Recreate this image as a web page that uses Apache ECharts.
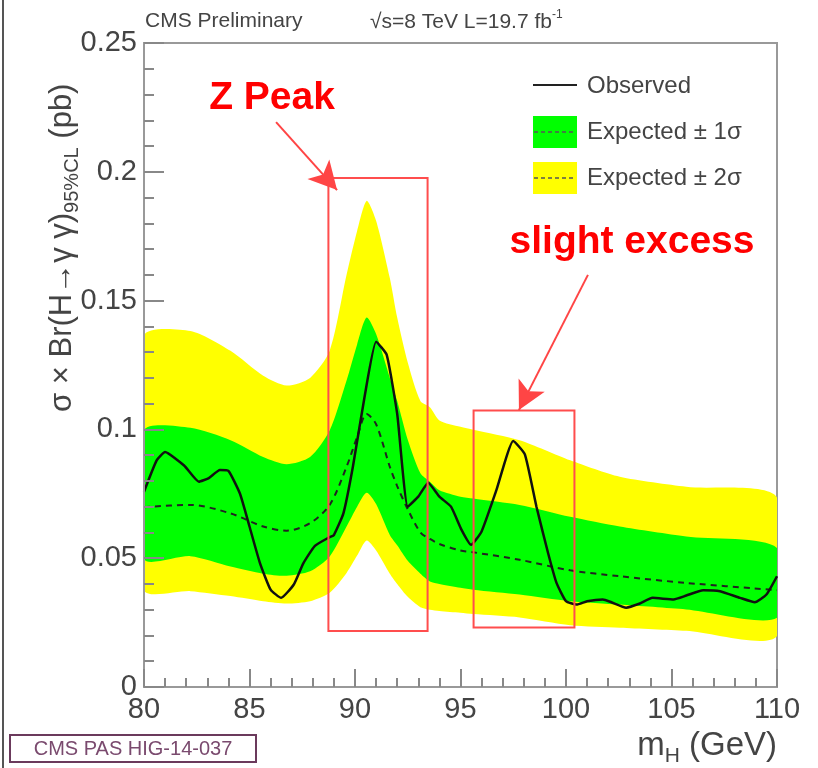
<!DOCTYPE html>
<html>
<head>
<meta charset="utf-8">
<script src="https://cdn.jsdelivr.net/npm/echarts@6/dist/echarts.min.js"></script>
<style>
html, body { margin: 0; padding: 0; background: #fff; }
#chart { width: 818px; height: 768px; }
</style>
</head>
<body>
<div id="chart"></div>
<script>
// observed limit
var massObs = [80, 80.6, 81.0, 81.9, 82.6, 83.05, 83.6, 84.0, 84.55, 85.0, 85.5, 86.0, 86.5, 87.1, 87.55, 88.1, 88.8, 89.0, 89.45, 89.9, 90.45, 91.0, 91.5, 92.0, 92.5, 93.0, 93.47, 94.0, 94.55, 95.05, 95.5, 96.0, 96.7, 97.5, 98.05, 98.6, 99.15, 99.55, 100.0, 100.5, 101.0, 101.75, 102.15, 102.85, 103.5, 104.1, 105.1, 105.7, 106.5, 107.3, 108.25, 108.95, 109.5, 110];
var observed = [0.0758, 0.088, 0.0912, 0.086, 0.0797, 0.081, 0.0842, 0.0839, 0.075, 0.0623, 0.048, 0.0378, 0.0346, 0.0398, 0.048, 0.0548, 0.0582, 0.059, 0.0674, 0.0855, 0.1125, 0.134, 0.129, 0.106, 0.070, 0.0739, 0.0793, 0.0739, 0.070, 0.061, 0.0552, 0.0604, 0.0764, 0.0955, 0.0903, 0.070, 0.052, 0.0404, 0.0333, 0.032, 0.0333, 0.034, 0.0329, 0.0308, 0.0324, 0.0346, 0.034, 0.0355, 0.0376, 0.0372, 0.0346, 0.0329, 0.0359, 0.043];

// expected limit and its bands
var massBand = [80, 82.2, 84.1, 85.65, 86.76, 87.87, 88.8, 89.6, 90.1, 90.55, 91.0, 91.65, 92.0, 92.5, 93.1, 93.55, 94.0, 95.0, 95.6, 97.8, 100.2, 102.55, 105.7, 110];
var expected = [0.0698, 0.0707, 0.0674, 0.0623, 0.0607, 0.0636, 0.0707, 0.0855, 0.097, 0.106, 0.102, 0.0855, 0.078, 0.069, 0.060, 0.0575, 0.0555, 0.053, 0.0523, 0.0494, 0.0453, 0.043, 0.0404, 0.0376];
var sigma1Hi = [0.0996, 0.1006, 0.0958, 0.0893, 0.0865, 0.0893, 0.0996, 0.119, 0.133, 0.1434, 0.137, 0.120, 0.111, 0.096, 0.083, 0.0797, 0.0764, 0.0739, 0.0732, 0.0707, 0.0661, 0.0623, 0.0584, 0.054];
var sigma1Lo = [0.0497, 0.0508, 0.0468, 0.044, 0.0432, 0.0449, 0.0507, 0.0623, 0.070, 0.0754, 0.071, 0.059, 0.055, 0.049, 0.044, 0.041, 0.040, 0.0385, 0.0378, 0.0359, 0.0333, 0.032, 0.0301, 0.0269];
var sigma2Hi = [0.1363, 0.1382, 0.1305, 0.1208, 0.117, 0.120, 0.1305, 0.160, 0.177, 0.1887, 0.181, 0.1588, 0.1434, 0.126, 0.111, 0.1086, 0.1035, 0.101, 0.0999, 0.0958, 0.088, 0.0816, 0.0777, 0.0736];
var sigma2Lo = [0.0378, 0.0372, 0.0353, 0.0333, 0.0324, 0.0333, 0.0366, 0.0443, 0.051, 0.0569, 0.053, 0.044, 0.040, 0.035, 0.031, 0.030, 0.0295, 0.0288, 0.0283, 0.027, 0.024, 0.023, 0.0218, 0.0198];

// annotation boxes [mLo, yHi, mHi, yLo] and arrows [mFrom, yFrom, mTo, yTo]
var zPeakBox = [88.74, 0.1976, 93.44, 0.0217];
var excessBox = [95.62, 0.1073, 100.40, 0.0231];
var zPeakArrow = [86.26, 0.2193, 89.15, 0.1929];
var excessArrow = [101.04, 0.160, 97.77, 0.1075];

function pairs(xs, ys) {
    return xs.map(function (x, i) { return [x, ys[i]]; });
}

// filled band between lo and hi, drawn as one polygon through the axes
function band(lo, hi, color) {
    return {
        type: 'custom', silent: true, clip: true, z: 1,
        data: [[95, 0.1]],
        renderItem: function (params, api) {
            var pts = [];
            for (var i = 0; i < massBand.length; i++) pts.push(api.coord([massBand[i], hi[i]]));
            for (var j = massBand.length - 1; j >= 0; j--) pts.push(api.coord([massBand[j], lo[j]]));
            return {
                type: 'polygon',
                shape: { points: pts, smooth: 0.25 },
                style: { fill: color }
            };
        }
    };
}

var chart = echarts.init(document.getElementById('chart'));
var font = 'Liberation Sans, Arial, sans-serif';

var option = {
    animation: false,
    backgroundColor: '#fff',
    grid: { left: 144, right: 41, top: 43, bottom: 81, show: true, borderColor: '#999', borderWidth: 2, backgroundColor: 'transparent' },
    xAxis: {
        type: 'value', min: 80, max: 110, interval: 5, z: 10,
        axisLine: { lineStyle: { color: '#999', width: 2 } },
        axisTick: { inside: true, length: 18, lineStyle: { color: '#888', width: 2 } },
        minorTick: { show: true, splitNumber: 5, length: 9, lineStyle: { color: '#888', width: 2 } },
        splitLine: { show: false },
        axisLabel: { color: '#444', fontSize: 29, fontFamily: font, margin: 8 }
    },
    yAxis: {
        type: 'value', min: 0, max: 0.25, interval: 0.05, z: 10,
        axisLine: { show: true, lineStyle: { color: '#999', width: 2 } },
        axisTick: { show: true, inside: true, length: 20, lineStyle: { color: '#888', width: 2 } },
        minorTick: { show: true, splitNumber: 5, length: 10, lineStyle: { color: '#888', width: 2 } },
        splitLine: { show: false },
        axisLabel: { color: '#444', fontSize: 29, fontFamily: font, margin: 7 }
    },
    series: [
        band(sigma2Lo, sigma2Hi, '#ffff00'),
        band(sigma1Lo, sigma1Hi, '#00ff00'),
        {
            type: 'line', symbol: 'none', smooth: 0.3, silent: true, z: 3,
            data: pairs(massBand, expected),
            lineStyle: { color: '#222', width: 2, type: [6, 5] }
        },
        {
            type: 'line', symbol: 'none', smooth: 0.15, silent: true, z: 5,
            data: pairs(massObs, observed),
            lineStyle: { color: '#111', width: 2.5 },
            markArea: {
                silent: true, z: 12,
                itemStyle: { color: 'rgba(0,0,0,0)', borderColor: '#ff4d4d', borderWidth: 2 },
                data: [
                    [{ coord: [zPeakBox[0], zPeakBox[1]] }, { coord: [zPeakBox[2], zPeakBox[3]] }],
                    [{ coord: [excessBox[0], excessBox[1]] }, { coord: [excessBox[2], excessBox[3]] }]
                ]
            },
            markLine: {
                silent: true, z: 12,
                symbol: ['none', 'arrow'],
                symbolSize: [22, 28],
                label: { show: false },
                lineStyle: { color: '#ff4545', width: 2, type: 'solid' },
                data: [
                    [{ coord: [zPeakArrow[0], zPeakArrow[1]] }, { coord: [zPeakArrow[2], zPeakArrow[3]] }],
                    [{ coord: [excessArrow[0], excessArrow[1]] }, { coord: [excessArrow[2], excessArrow[3]] }]
                ]
            }
        }
    ],
    graphic: [
        // left page edge
        { type: 'line', shape: { x1: 3, y1: 0, x2: 3, y2: 768 }, style: { stroke: '#555', lineWidth: 2 } },
        // header
        { type: 'text', x: 145, y: 21, style: { text: 'CMS Preliminary', fill: '#444', font: '21px ' + font, verticalAlign: 'middle' } },
        {
            type: 'text', x: 370, y: 21,
            style: {
                text: '{a|√s=8 TeV L=19.7 fb}{s|-1}', verticalAlign: 'middle',
                rich: {
                    a: { fill: '#444', fontSize: 21, fontFamily: font, verticalAlign: 'bottom', lineHeight: 24 },
                    s: { fill: '#444', fontSize: 12, fontFamily: font, verticalAlign: 'top' }
                }
            }
        },
        // y axis title
        {
            type: 'text', x: 62, y: 412, rotation: Math.PI / 2,
            style: {
                text: '{a|σ × Br(H→γ γ)}{s|95%CL}{a| (pb)}', align: 'left', verticalAlign: 'middle',
                rich: {
                    a: { fill: '#444', fontSize: 31, fontFamily: font, lineHeight: 40 },
                    s: { fill: '#444', fontSize: 20, fontFamily: font, verticalAlign: 'bottom' }
                }
            }
        },
        // x axis title
        {
            type: 'text', x: 777, y: 746,
            style: {
                text: '{a|m}{s|H}{a| (GeV)}', align: 'right', verticalAlign: 'middle',
                rich: {
                    a: { fill: '#444', fontSize: 33, fontFamily: font, lineHeight: 42 },
                    s: { fill: '#444', fontSize: 21, fontFamily: font, verticalAlign: 'bottom' }
                }
            }
        },
        // PAS label
        { type: 'rect', shape: { x: 10, y: 735, width: 246, height: 27 }, style: { fill: '#fff', stroke: '#6b3a5c', lineWidth: 2 } },
        { type: 'text', x: 133, y: 749, style: { text: 'CMS PAS HIG-14-037', fill: '#7a4a6e', font: '20px ' + font, align: 'center', verticalAlign: 'middle' } },
        // legend
        { type: 'line', shape: { x1: 533, y1: 85, x2: 577, y2: 85 }, style: { stroke: '#222', lineWidth: 2 }, z: 20 },
        { type: 'text', x: 587, y: 86, style: { text: 'Observed', fill: '#444', font: '24px ' + font, verticalAlign: 'middle' }, z: 20 },
        { type: 'rect', shape: { x: 533, y: 116, width: 44, height: 32 }, style: { fill: '#00ff00' }, z: 20 },
        { type: 'line', shape: { x1: 534, y1: 132, x2: 576, y2: 132 }, style: { stroke: '#555', lineWidth: 1.5, lineDash: [4, 3] }, z: 21 },
        { type: 'text', x: 587, y: 132, style: { text: 'Expected ± 1σ', fill: '#444', font: '24px ' + font, verticalAlign: 'middle' }, z: 20 },
        { type: 'rect', shape: { x: 533, y: 162, width: 44, height: 32 }, style: { fill: '#ffff00' }, z: 20 },
        { type: 'line', shape: { x1: 534, y1: 178, x2: 576, y2: 178 }, style: { stroke: '#555', lineWidth: 1.5, lineDash: [4, 3] }, z: 21 },
        { type: 'text', x: 587, y: 178, style: { text: 'Expected ± 2σ', fill: '#444', font: '24px ' + font, verticalAlign: 'middle' }, z: 20 },
        // annotations
        { type: 'text', x: 272, y: 98, style: { text: 'Z Peak', fill: '#ff0000', font: 'bold 39px ' + font, align: 'center', verticalAlign: 'middle' }, z: 20 },
        { type: 'text', x: 632, y: 242, style: { text: 'slight excess', fill: '#ff0000', font: 'bold 39px ' + font, align: 'center', verticalAlign: 'middle' }, z: 20 }
    ]
};

chart.setOption(option);
</script>
</body>
</html>
